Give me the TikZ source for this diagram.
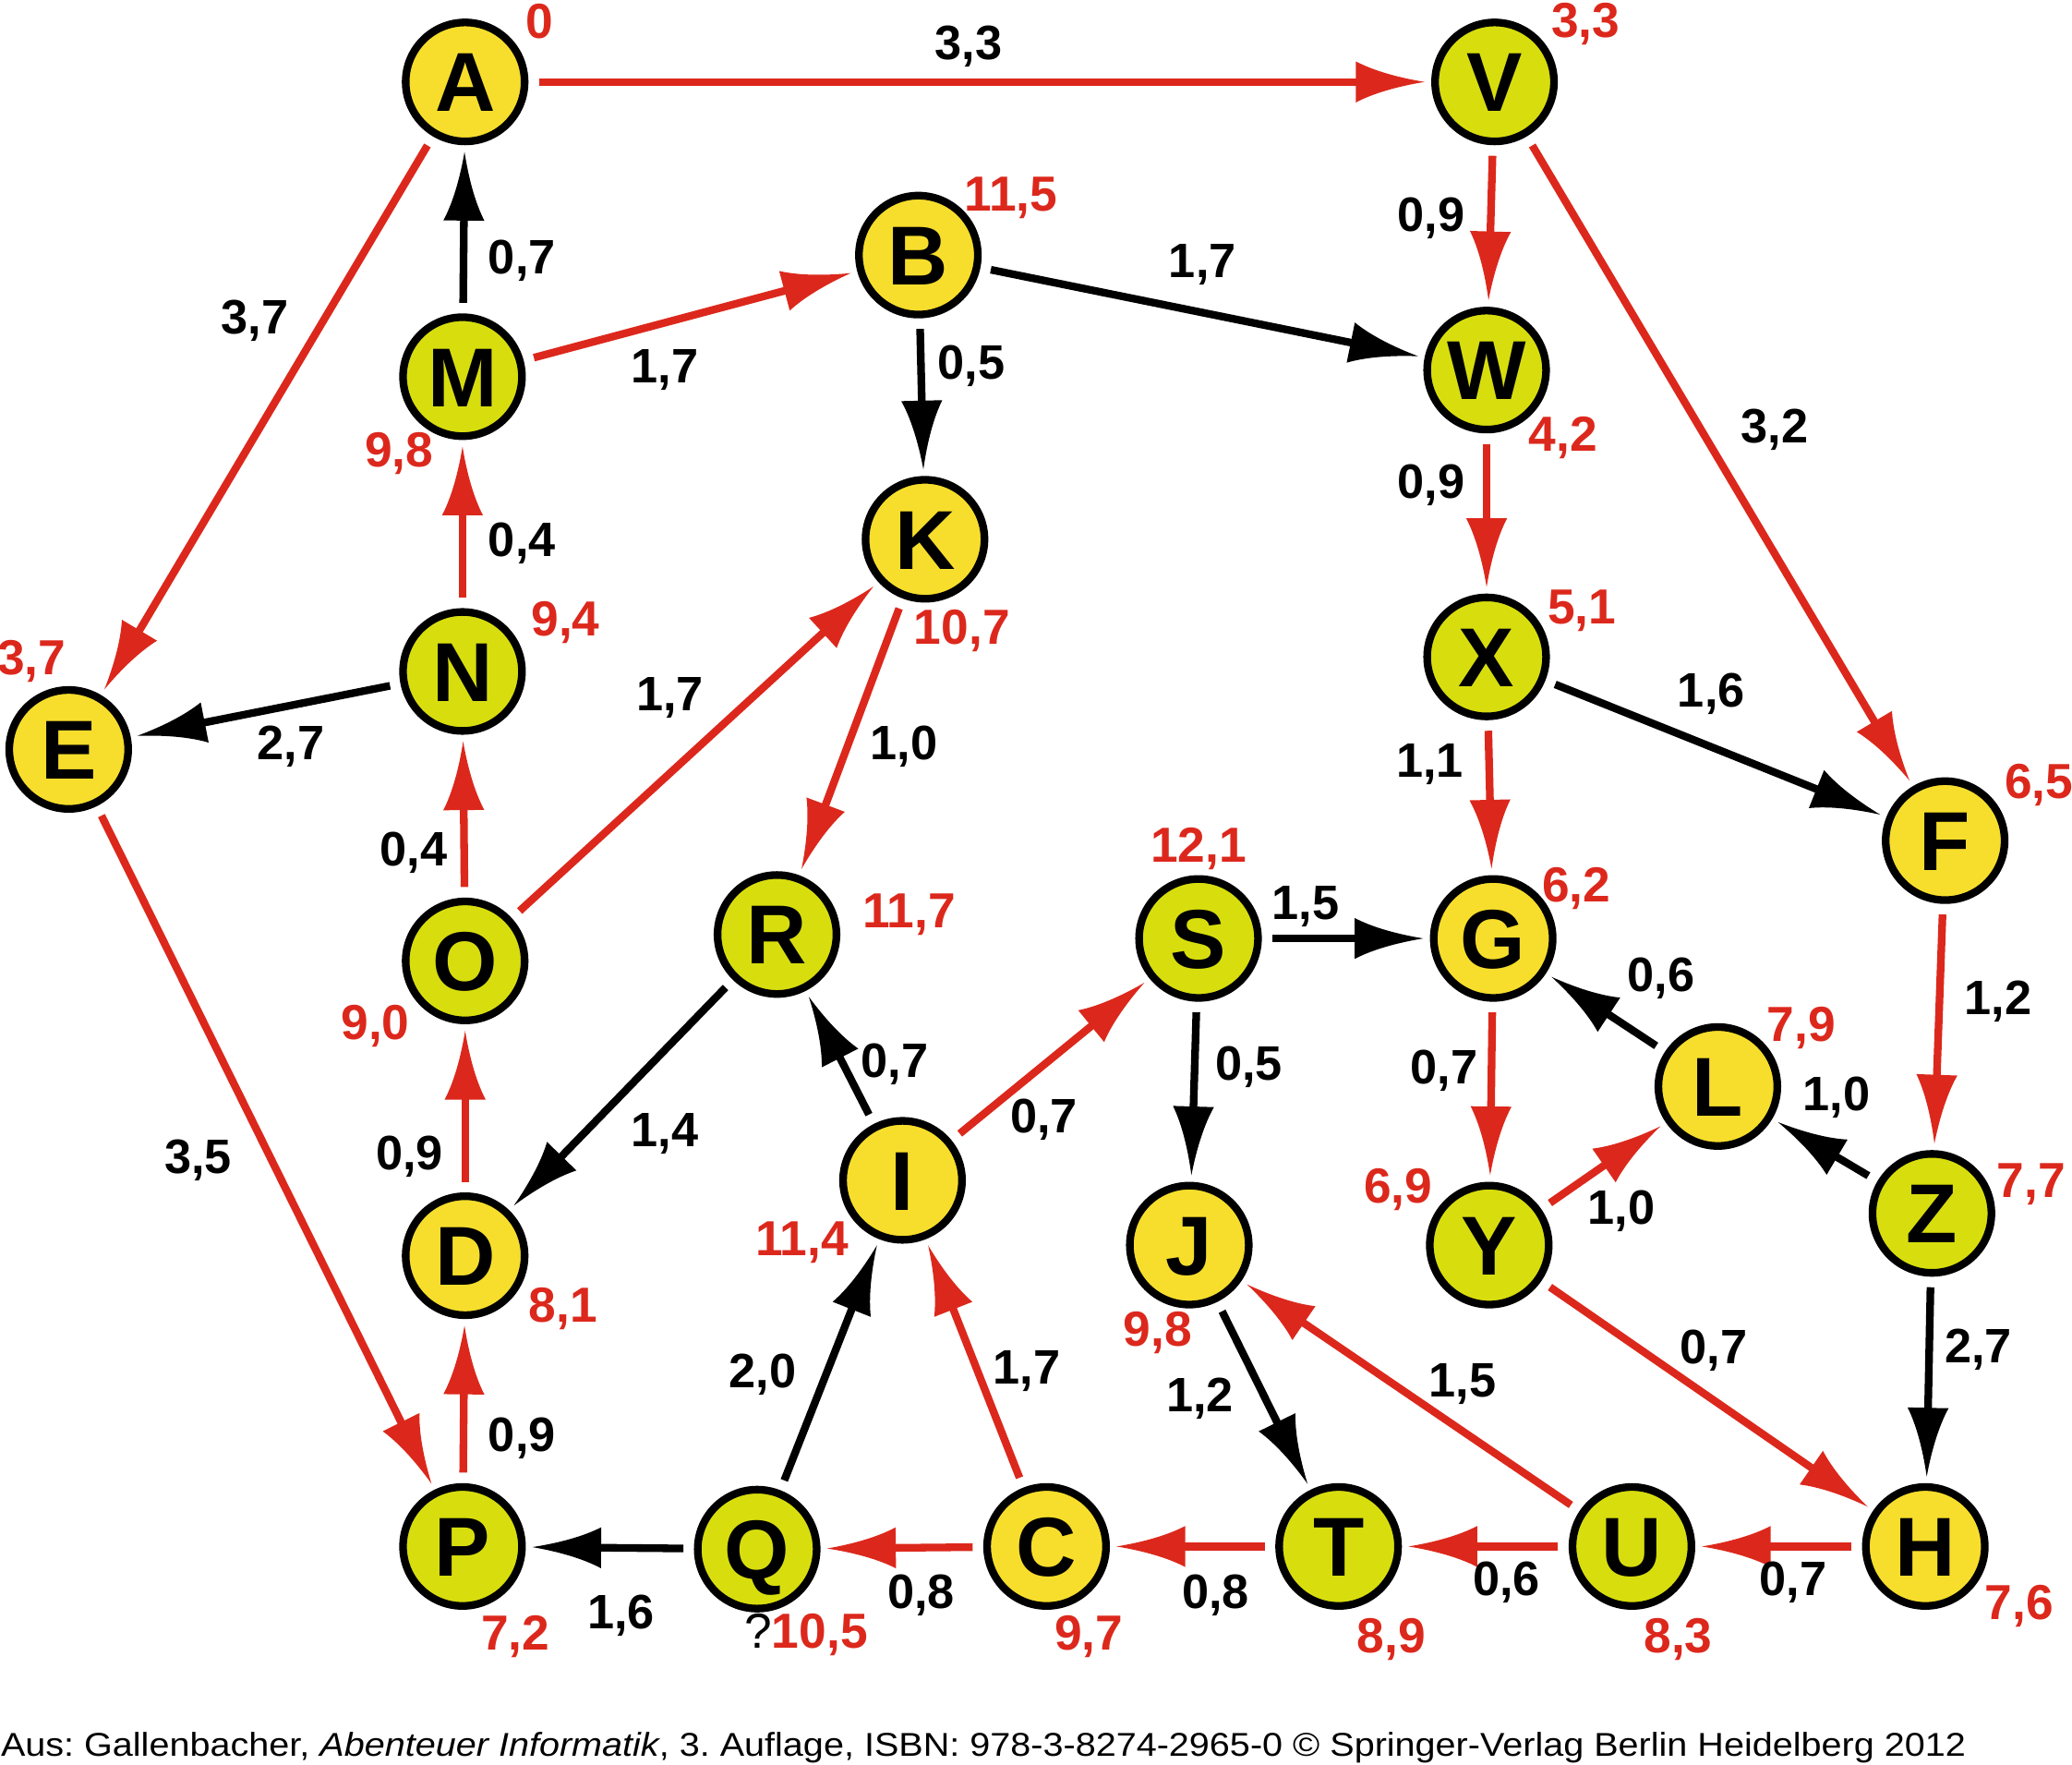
\documentclass[tikz,border=0pt]{standalone}
\usepackage{fontspec}
\usepackage{graphicx}
\setmainfont{Liberation Sans}
\usetikzlibrary{arrows.meta}
\definecolor{nodeY}{RGB}{247,222,44}
\definecolor{nodeG}{RGB}{216,222,14}
\definecolor{edgeR}{RGB}{220,40,28}
\pgfdeclarearrow{
  name = Swept,
  parameters = {\the\pgfarrowlength,\the\pgfarrowwidth},
  setup code = {
    \pgfarrowssettipend{\pgfarrowlength}
    \pgfarrowssetbackend{0pt}
    \pgfarrowssetlineend{0.15\pgfarrowlength}
    \pgfarrowssavethe\pgfarrowlength
    \pgfarrowssavethe\pgfarrowwidth
  },
  drawing code = {
    \pgfpathmoveto{\pgfqpoint{\pgfarrowlength}{0pt}}
    \pgfpathcurveto{\pgfqpoint{0.6\pgfarrowlength}{0.11\pgfarrowwidth}}{\pgfqpoint{0.25\pgfarrowlength}{0.28\pgfarrowwidth}}{\pgfqpoint{0pt}{0.5\pgfarrowwidth}}
    \pgfpathlineto{\pgfqpoint{0pt}{-0.5\pgfarrowwidth}}
    \pgfpathcurveto{\pgfqpoint{0.25\pgfarrowlength}{-0.28\pgfarrowwidth}}{\pgfqpoint{0.6\pgfarrowlength}{-0.11\pgfarrowwidth}}{\pgfqpoint{\pgfarrowlength}{0pt}}
    \pgfpathclose
    \pgfusepathqfill
  },
  defaults = {length=5.2mm, width=3.1mm}
}
\tikzset{
  vy/.style={circle, draw=black, line width=0.58mm, fill=nodeY, minimum size=9mm, inner sep=0pt,
    font=\fontsize{18pt}{18pt}\selectfont\bfseries, text height=4.5mm, text depth=0pt},
  vg/.style={vy, fill=nodeG},
  er/.style={draw=edgeR, line width=0.58mm, -{Swept}, shorten >=0.5mm, shorten <=0.8mm},
  ek/.style={er, draw=black},
  wl/.style={font=\fontsize{10.4pt}{11pt}\selectfont\bfseries, inner sep=0pt},
  dl/.style={font=\fontsize{10.6pt}{11pt}\selectfont\bfseries, text=edgeR, inner sep=0pt}
}
\begin{document}
\begin{tikzpicture}[x=0.1mm,y=-0.1mm]
\useasboundingbox (0,0) rectangle (1568,1335.3);
% nodes
\node[vy] (A) at (352,62) {A};
\node[vg] (V) at (1131,62) {V};
\node[vy] (B) at (695,193) {B};
\node[vg] (M) at (350,285) {M};
\node[vg] (W) at (1125,280) {W};
\node[vy] (K) at (700,408) {K};
\node[vg] (N) at (350,508) {N};
\node[vg] (X) at (1125,497) {X};
\node[vy] (E) at (52,567) {E};
\node[vy] (F) at (1472,636) {F};
\node[vg] (O) at (352,727) {O};
\node[vg] (R) at (588,707) {R};
\node[vg] (S) at (907,710) {S};
\node[vy] (G) at (1130,710) {G};
\node[vy] (L) at (1300,822) {L};
\node[vy] (I) at (683,893) {I};
\node[vy] (D) at (352,950) {D};
\node[vy] (J) at (900,942) {J};
\node[vg] (Y) at (1127,942) {Y};
\node[vg] (Z) at (1462,918) {Z};
\node[vg] (P) at (350,1170) {P};
\node[vg] (Q) at (573,1172) {Q};
\node[vy] (C) at (792,1170) {C};
\node[vg] (T) at (1013,1170) {T};
\node[vg] (U) at (1235,1170) {U};
\node[vy] (H) at (1457,1170) {H};
% edges
\draw[er] (A) -- (V);
\draw[er] (A) -- (E);
\draw[ek] (M) -- (A);
\draw[er] (M) -- (B);
\draw[ek] (B) -- (W);
\draw[ek] (B) -- (K);
\draw[er] (V) -- (W);
\draw[er] (V) -- (F);
\draw[er] (W) -- (X);
\draw[er] (N) -- (M);
\draw[ek] (N) -- (E);
\draw[er] (O) -- (N);
\draw[er] (O) -- (K);
\draw[er] (K) -- (R);
\draw[ek] (X) -- (F);
\draw[er] (X) -- (G);
\draw[er] (E) -- (P);
\draw[er] (D) -- (O);
\draw[ek] (R) -- (D);
\draw[ek] (I) -- (R);
\draw[er] (I) -- (S);
\draw[ek] (S) -- (G);
\draw[ek] (S) -- (J);
\draw[ek] (L) -- (G);
\draw[er] (G) -- (Y);
\draw[er] (Y) -- (L);
\draw[ek] (Z) -- (L);
\draw[er] (F) -- (Z);
\draw[ek] (Z) -- (H);
\draw[er] (Y) -- (H);
\draw[ek] (Q) -- (I);
\draw[er] (C) -- (I);
\draw[ek] (J) -- (T);
\draw[er] (U) -- (J);
\draw[er] (P) -- (D);
\draw[ek] (Q) -- (P);
\draw[er] (C) -- (Q);
\draw[er] (T) -- (C);
\draw[er] (U) -- (T);
\draw[er] (H) -- (U);
% edge weights
\node[wl] (wAV) at (733,35) {3,3};
\node[wl] (wAE) at (193,243) {3,7};
\node[wl] (wMA) at (395,197) {0,7};
\node[wl] (wMB) at (503,280) {1,7};
\node[wl] (wBW) at (910,200) {1,7};
\node[wl] (wBK) at (735,277) {0,5};
\node[wl] (wVW) at (1083,165) {0,9};
\node[wl] (wVF) at (1343,325) {3,2};
\node[wl] (wWX) at (1083,367) {0,9};
\node[wl] (wNM) at (395,411) {0,4};
\node[wl] (wNE) at (220,565) {2,7};
\node[wl] (wON) at (313,645) {0,4};
\node[wl] (wOK) at (507,528) {1,7};
\node[wl] (wKR) at (684,565) {1,0};
\node[wl] (wXF) at (1295,525) {1,6};
\node[wl] (wXG) at (1082,578) {1,1};
\node[wl] (wEP) at (150,878) {3,5};
\node[wl] (wDO) at (310,875) {0,9};
\node[wl] (wRD) at (503,858) {1,4};
\node[wl] (wIR) at (677,805) {0,7};
\node[wl] (wIS) at (790,847) {0,7};
\node[wl] (wSG) at (988,686) {1,5};
\node[wl] (wSJ) at (945,807) {0,5};
\node[wl] (wLG) at (1257,740) {0,6};
\node[wl] (wGY) at (1093,810) {0,7};
\node[wl] (wYL) at (1227,916) {1,0};
\node[wl] (wZL) at (1390,830) {1,0};
\node[wl] (wFZ) at (1512,758) {1,2};
\node[wl] (wZH) at (1497,1021) {2,7};
\node[wl] (wYH) at (1297,1022) {0,7};
\node[wl] (wQI) at (577,1040) {2,0};
\node[wl] (wCI) at (777,1037) {1,7};
\node[wl] (wJT) at (908,1058) {1,2};
\node[wl] (wUJ) at (1107,1047) {1,5};
\node[wl] (wPD) at (395,1088) {0,9};
\node[wl] (wQP) at (470,1222) {1,6};
\node[wl] (wCQ) at (697,1207) {0,8};
\node[wl] (wTC) at (920,1207) {0,8};
\node[wl] (wUT) at (1140,1197) {0,6};
\node[wl] (wHU) at (1357,1197) {0,7};
% distances
\node[dl] (dA) at (408,16) {0};
\node[dl] (dV) at (1200,18) {3,3};
\node[dl] (dB) at (765,150) {11,5};
\node[dl] (dM) at (302,343) {9,8};
\node[dl] (dW) at (1183,331) {4,2};
\node[dl] (dK) at (728,477) {10,7};
\node[dl] (dN) at (428,471) {9,4};
\node[dl] (dX) at (1197,462) {5,1};
\node[dl] (dE) at (24,500) {3,7};
\node[dl] (dF) at (1543,594) {6,5};
\node[dl] (dO) at (284,776) {9,0};
\node[dl] (dR) at (688,692) {11,7};
\node[dl] (dS) at (907,642) {12,1};
\node[dl] (dG) at (1193,672) {6,2};
\node[dl] (dL) at (1363,778) {7,9};
\node[dl] (dI) at (607,940) {11,4};
\node[dl] (dD) at (426,990) {8,1};
\node[dl] (dJ) at (876,1008) {9,8};
\node[dl] (dY) at (1058,900) {6,9};
\node[dl] (dZ) at (1537,896) {7,7};
\node[dl] (dP) at (390,1238) {7,2};
\node[dl] (dQ) at (610,1237) {{\color{black}\mdseries ?}10,5};
\node[dl] (dC) at (824,1238) {9,7};
\node[dl] (dT) at (1053,1240) {8,9};
\node[dl] (dU) at (1270,1240) {8,3};
\node[dl] (dH) at (1528,1215) {7,6};
% footer
\node[anchor=base west, inner sep=0pt, font=\fontsize{7.1pt}{8pt}\selectfont\frenchspacing] (foot) at (0,1329)
  {\resizebox{148.7mm}{\height}{Aus: Gallenbacher, \textit{Abenteuer Informatik}, 3. Auflage, ISBN: 978-3-8274-2965-0 © Springer-Verlag Berlin Heidelberg 2012}};
\end{tikzpicture}
\end{document}
